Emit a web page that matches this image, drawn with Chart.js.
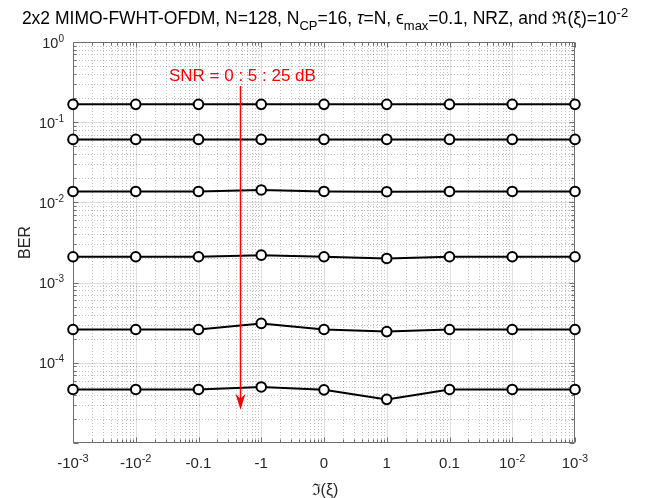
<!DOCTYPE html>
<html><head><meta charset="utf-8">
<script src="https://cdn.jsdelivr.net/npm/chart.js@4/dist/chart.umd.min.js"></script>
<style>html,body{margin:0;padding:0;background:#fff}</style>
</head><body>
<canvas id="c" width="654" height="498"></canvas>
<script>
// ---------- data ----------
const categories = ["-10^-3","-10^-2","-0.1","-1","0","1","0.1","10^-2","10^-3"];
const snr0  = [0.167,0.167,0.167,0.167,0.167,0.167,0.167,0.167,0.167];
const snr5  = [0.061,0.061,0.061,0.061,0.061,0.061,0.061,0.061,0.061];
const snr10 = [0.0137,0.0137,0.0137,0.0143,0.0137,0.0136,0.0137,0.0137,0.0137];
const snr15 = [0.0021,0.0021,0.0021,0.0022,0.0021,0.0020,0.0021,0.0021,0.0021];
const snr20 = [2.6e-4,2.6e-4,2.6e-4,3.1e-4,2.6e-4,2.45e-4,2.6e-4,2.6e-4,2.6e-4];
const snr25 = [4.65e-5,4.65e-5,4.65e-5,5.0e-5,4.6e-5,3.5e-5,4.65e-5,4.65e-5,4.65e-5];
const yTickExps = [0,-1,-2,-3,-4];
const yMin = 1e-5, yMax = 1;
const annotationText = "SNR = 0 : 5 : 25 dB";
const arrowX = 2.66, arrowTopY = 0.283, arrowTipY = 2.6e-5;
const annotX = 2.70, annotY = 0.37;

const FONT = '"Liberation Sans", Arial, Helvetica, sans-serif';
const AXC = '#6e6e6e';

function segFont(type, size) {
  const s = (type === 'sub' || type === 'sup') ? Math.round(size * 0.72) : size;
  return (type === 'i' ? 'italic ' : '') + s + 'px ' + FONT;
}
function rich(ctx, segs, x, y, align, size) {
  let w = 0;
  segs.forEach(s => { ctx.font = segFont(s[1], size); w += ctx.measureText(s[0]).width; });
  let cx = align === 'center' ? x - w / 2 : (align === 'right' ? x - w : x);
  ctx.textAlign = 'left';
  ctx.textBaseline = 'alphabetic';
  segs.forEach(s => {
    ctx.font = segFont(s[1], size);
    const dy = s[1] === 'sub' ? Math.round(size * 0.35) : (s[1] === 'sup' ? -Math.round(size * 0.42) : 0);
    ctx.fillText(s[0], cx, y + dy);
    cx += ctx.measureText(s[0]).width;
  });
}
function labelSegs(str) {
  const i = str.indexOf('^');
  if (i < 0) return [[str]];
  return [[str.slice(0, i)], [str.slice(i + 1), 'sup']];
}

const series = [snr0, snr5, snr10, snr15, snr20, snr25];

const matlabAxes = {
  id: 'matlabAxes',
  beforeDatasetsDraw(chart) {
    const ctx = chart.ctx, a = chart.chartArea, xs = chart.scales.x, ys = chart.scales.y;
    ctx.save();
    ctx.beginPath(); ctx.rect(a.left, a.top, a.right - a.left, a.bottom - a.top); ctx.clip();
    // minor grid (dotted)
    ctx.strokeStyle = 'rgba(30,30,30,0.28)';
    ctx.lineWidth = 1;
    ctx.setLineDash([1, 2]);
    ctx.beginPath();
    for (let i = 0; i < categories.length - 1; i++) {
      for (let k = 2; k <= 9; k++) {
        const px = Math.round(xs.getPixelForValue(i + Math.log10(k))) + 0.5;
        ctx.moveTo(px, a.top); ctx.lineTo(px, a.bottom);
      }
    }
    for (let e = -5; e < 0; e++) {
      for (let k = 2; k <= 9; k++) {
        const py = Math.round(ys.getPixelForValue(k * Math.pow(10, e))) + 0.5;
        ctx.moveTo(a.left, py); ctx.lineTo(a.right, py);
      }
    }
    ctx.stroke();
    // major grid
    ctx.setLineDash([]);
    ctx.strokeStyle = 'rgba(38,38,38,0.15)';
    ctx.beginPath();
    categories.forEach((c, i) => {
      const px = Math.round(xs.getPixelForValue(i)) + 0.5;
      ctx.moveTo(px, a.top); ctx.lineTo(px, a.bottom);
    });
    yTickExps.forEach(e => {
      const py = Math.round(ys.getPixelForValue(Math.pow(10, e))) + 0.5;
      ctx.moveTo(a.left, py); ctx.lineTo(a.right, py);
    });
    ctx.stroke();
    ctx.restore();

    // box + ticks
    ctx.save();
    ctx.strokeStyle = AXC;
    ctx.lineWidth = 1;
    const L = Math.round(a.left) + 0.5, R = Math.round(a.right) - 0.5, T = Math.round(a.top) + 0.5, B = Math.round(a.bottom) - 0.5;
    ctx.beginPath();
    ctx.rect(L, T, R - L, B - T);
    for (let i = 0; i < categories.length; i++) {
      const px = Math.round(xs.getPixelForValue(i)) + 0.5;
      ctx.moveTo(px, B); ctx.lineTo(px, B - 5);
      ctx.moveTo(px, T); ctx.lineTo(px, T + 5);
      if (i < categories.length - 1) {
        for (let k = 2; k <= 9; k++) {
          const qx = Math.round(xs.getPixelForValue(i + Math.log10(k))) + 0.5;
          ctx.moveTo(qx, B); ctx.lineTo(qx, B - 3);
          ctx.moveTo(qx, T); ctx.lineTo(qx, T + 3);
        }
      }
    }
    for (let e = -5; e <= 0; e++) {
      const py = Math.round(ys.getPixelForValue(Math.pow(10, e))) + 0.5;
      ctx.moveTo(L, py); ctx.lineTo(L + 5, py);
      ctx.moveTo(R, py); ctx.lineTo(R - 5, py);
      if (e < 0) {
        for (let k = 2; k <= 9; k++) {
          const qy = Math.round(ys.getPixelForValue(k * Math.pow(10, e))) + 0.5;
          ctx.moveTo(L, qy); ctx.lineTo(L + 3, qy);
          ctx.moveTo(R, qy); ctx.lineTo(R - 3, qy);
        }
      }
    }
    ctx.stroke();
    ctx.restore();
  },
  afterDatasetsDraw(chart) {
    const ctx = chart.ctx, a = chart.chartArea, xs = chart.scales.x, ys = chart.scales.y;
    ctx.save();
    // annotation arrow
    const ax = Math.round(xs.getPixelForValue(arrowX)) + 0.5;
    const y0 = ys.getPixelForValue(arrowTopY), y1 = ys.getPixelForValue(arrowTipY);
    ctx.strokeStyle = '#ff0000'; ctx.fillStyle = '#ff0000'; ctx.lineWidth = 1.5;
    ctx.beginPath(); ctx.moveTo(ax, y0); ctx.lineTo(ax, y1 - 10); ctx.stroke();
    ctx.beginPath(); ctx.moveTo(ax, y1); ctx.lineTo(ax - 5, y1 - 16); ctx.lineTo(ax, y1 - 11); ctx.lineTo(ax + 5, y1 - 16); ctx.closePath(); ctx.fill();
    ctx.font = '17px ' + FONT;
    ctx.textAlign = 'center'; ctx.textBaseline = 'middle';
    ctx.fillText(annotationText, xs.getPixelForValue(annotX), ys.getPixelForValue(annotY));
    ctx.restore();

    // labels
    ctx.save();
    ctx.fillStyle = '#262626';
    categories.forEach((c, i) => {
      rich(ctx, labelSegs(c), xs.getPixelForValue(i), a.bottom + 25, 'center', 15);
    });
    yTickExps.forEach(e => {
      rich(ctx, [['10'], [String(e), 'sup']], a.left - 9, ys.getPixelForValue(Math.pow(10, e)) + 5.5, 'right', 14.5);
    });
    ctx.font = '16px ' + FONT;
    ctx.textAlign = 'center'; ctx.textBaseline = 'alphabetic';
    ctx.fillText('\u2111(\u03BE)', (a.left + a.right) / 2 + 1, 495);
    ctx.save();
    ctx.translate(30, (a.top + a.bottom) / 2);
    ctx.rotate(-Math.PI / 2);
    ctx.font = '16px ' + FONT;
    ctx.textBaseline = 'alphabetic';
    ctx.fillText('BER', 0, 0);
    ctx.restore();
    // title
    ctx.fillStyle = '#000';
    rich(ctx, [["2x2 MIMO-FWHT-OFDM, N=128, N"], ["CP", "sub"], ["=16, "], ["\u03C4", "i"], ["=N, "], ["\u03F5"], ["max", "sub"], ["=0.1, NRZ, and \u211C(\u03BE)=10"], ["-2", "sup"]],
      325, 24, 'center', 17.5);
    ctx.restore();
  }
};

const datasets = series.map((s, i) => ({
  label: 'SNR ' + (i * 5) + ' dB',
  data: s,
  borderColor: '#000',
  borderWidth: 2,
  pointRadius: 4.8,
  pointBorderWidth: 2,
  pointBackgroundColor: '#fff',
  pointBorderColor: '#000',
  tension: 0,
  clip: false
}));

new Chart(document.getElementById('c'), {
  type: 'line',
  data: { labels: categories, datasets },
  plugins: [matlabAxes],
  options: {
    responsive: false,
    animation: false,
    layout: { padding: { top: 42, right: 79, left: 0, bottom: 0 } },
    plugins: { legend: { display: false }, tooltip: { enabled: false }, title: { display: false } },
    scales: {
      x: {
        type: 'category', offset: false,
        grid: { display: false }, border: { display: false }, ticks: { display: false },
        afterFit: s => { s.height = 55; }
      },
      y: {
        type: 'logarithmic', min: yMin, max: yMax,
        grid: { display: false }, border: { display: false }, ticks: { display: false },
        afterFit: s => { s.width = 73; }
      }
    }
  }
});
</script>
</body></html>
